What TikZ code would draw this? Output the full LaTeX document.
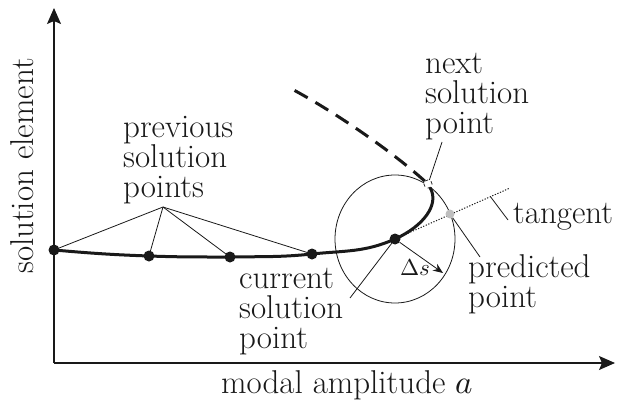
\documentclass[tikz,border=0pt]{standalone}
\usepackage{fontspec}
\usepackage{unicode-math}
\usepackage{tikz}
\usetikzlibrary{arrows.meta, calc}
\definecolor{mydark}{RGB}{25,25,25}
\definecolor{predgray}{RGB}{190,190,190}
\tikzset{
  axis/.style={-{Stealth[length=16pt, width=14pt, inset=3pt]}, line width=1.2pt, color=mydark},
  curve/.style={line width=3pt, color=mydark},
  nextcurve/.style={line width=3pt, color=mydark, dash pattern=on 15pt off 9pt},
  leader/.style={line width=0.8pt, color=mydark},
  tangentline/.style={line width=1pt, color=mydark, dash pattern=on 1.2pt off 1.6pt},
  dsarrow/.style={-{Stealth[length=10pt, width=8pt]}, line width=0.8pt, color=mydark},
  dot/.style={circle, fill=mydark, inner sep=0pt, minimum size=11pt},
  preddot/.style={circle, fill=predgray, inner sep=0pt, minimum size=9pt},
  nextpt/.style={circle, draw=mydark, dashed, line width=0.6pt, fill=white, inner sep=0pt, minimum size=8pt},
  lbl/.style={font=\fontsize{33}{30}\selectfont, inner sep=0pt, align=left, text=mydark}
}

\begin{document}
\begin{tikzpicture}[x=1pt, y=1pt]
  \useasboundingbox (0,0) rectangle (620,405);

  % Axes
  \coordinate (origin) at (54,42);
  \coordinate (ytip) at (54,397);
  \coordinate (xtip) at (615,42);
  \draw[axis] (origin) -- (ytip);
  \draw[axis] (origin) -- (xtip);
  \node[lbl, anchor=base] (xlbl) at (347,12) {modal amplitude $a$};
  \node[lbl, anchor=base, rotate=90] (ylbl) at (33,239) {solution element};

  % Solution points
  \node[dot] (p1) at (54,155) {};
  \node[dot] (p2) at (149,149) {};
  \node[dot] (p3) at (230,148) {};
  \node[dot] (p4) at (312,151) {};
  \node[dot] (p5) at (395,166) {};
  \node[nextpt] (nx) at (428,221) {};
  \coordinate (dend) at (290,317);

  % Step circle and tangent
  \draw[leader] (p5.center) ellipse[x radius=60pt, y radius=64pt];
  \coordinate (tend) at (510,217);
  \draw[tangentline] (p5.center) -- (tend);
  \node[preddot] (pred) at (450,191) {};

  % Branch
  \draw[curve] (p1.center) to[out=-5, in=178] (p2.center) to[out=-2, in=180] (p3.center)
    to[out=1, in=186] (p4.center) to[out=6, in=204] (p5.center)
    .. controls +(24:30) and (440,200) .. (nx);
  \draw[nextcurve] (nx) .. controls +(138:50) and +(-28:50) .. (dend);
  \node[nextpt] at (nx) {};

  % Arc length
  \coordinate (ds) at (443,132);
  \draw[dsarrow] (p5) -- (ds);
  \node[lbl, font=\fontsize{23}{23}\selectfont, anchor=base west] (dslbl) at (400,130) {$\Delta s$};

  % Labels (base = last line)
  \node[lbl, anchor=base west] (prevlbl) at (123,208) {previous\\solution\\points};
  \node[lbl, anchor=base west] (curlbl) at (239,57) {current\\solution\\point};
  \node[lbl, anchor=base west] (nextlbl) at (425,272) {next\\solution\\point};
  \node[lbl, anchor=base west] (tanlbl) at (513,182) {tangent};
  \node[lbl, anchor=base west] (predlbl) at (468,98) {predicted\\point};

  % Leaders
  \coordinate (hub) at (163,198);
  \foreach \p in {p1,p2,p3,p4} {
    \draw[leader] (hub) -- (\p.center);
  }
  \coordinate (curlead) at (350,107);
  \draw[leader] (p5.center) -- (curlead);
  \coordinate (nextlead) at (442,263);
  \draw[leader] (nextlead) -- (nx);
  \coordinate (tanlead) at (508,185);
  \draw[leader] (tanlead) -- ($(p5.center)!0.83!(tend)$);
  \coordinate (predlead) at (480,148);
  \draw[leader] (predlead) -- (pred);

\end{tikzpicture}
\end{document}
